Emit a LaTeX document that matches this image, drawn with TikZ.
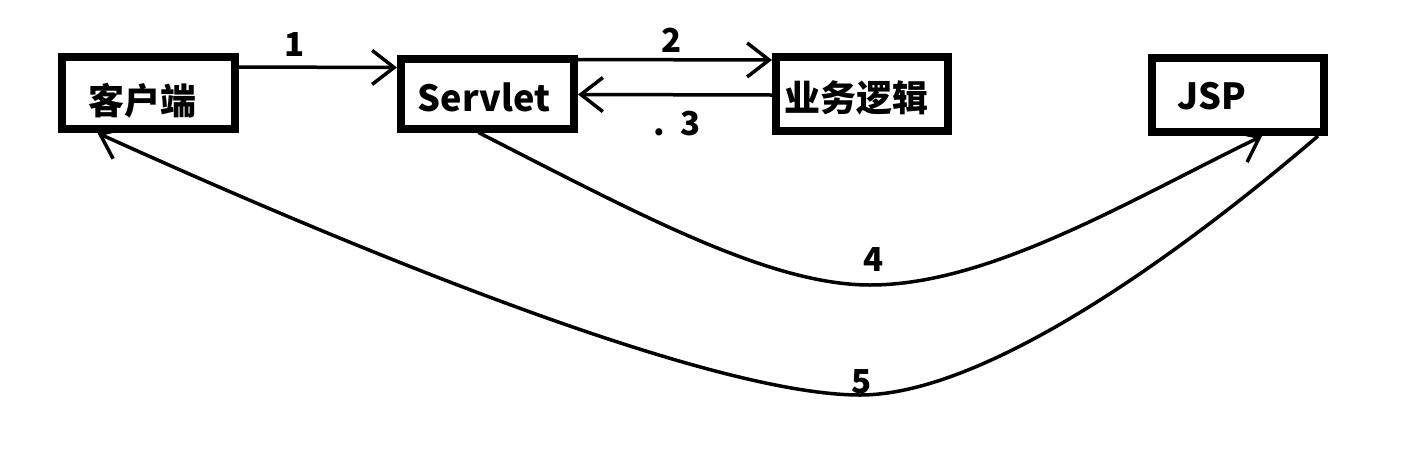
\documentclass[tikz,border=0pt]{standalone}
\usepackage{fontspec}
\setmainfont{Noto Sans CJK SC}
\usetikzlibrary{arrows.meta}
\begin{document}
\begin{tikzpicture}[x=1pt,y=-1pt,
  boxnode/.style={draw=black,line width=8pt,rectangle,inner sep=0pt},
  txt/.style={font=\fontsize{36}{40}\selectfont\bfseries,inner sep=0pt},
  num/.style={font=\fontsize{33}{38}\selectfont\bfseries,inner sep=0pt},
  conn/.style={line width=3.5pt,-{Straight Barb[length=22pt,width=34pt,line width=3.5pt]}}]
\useasboundingbox[fill=white] (0,0) rectangle (1428,456);
% boxes
\node[boxnode,minimum width=173pt,minimum height=72pt] (client) at (148.5,93) {};
\node[boxnode,minimum width=173pt,minimum height=70pt] (servlet) at (487.5,93.5) {};
\node[boxnode,minimum width=172pt,minimum height=74pt] (logic) at (862,94) {};
\node[boxnode,minimum width=172pt,minimum height=74pt] (jsp) at (1238,95) {};
% texts
\node[txt] (tclient) at (142,101) {客户端};
\node[txt] (tservlet) at (484,97) {Servlet};
\node[txt] (tlogic) at (856,98) {业务逻辑};
\node[txt] (tjsp) at (1212,96) {JSP};
% connectors
\draw[conn] ([yshift=26pt]client.east) -- ([yshift=26pt]servlet.west);
\draw[conn] ([yshift=34pt]servlet.east) -- ([yshift=34pt]logic.west);
\draw[conn] ([yshift=-1pt]logic.west) -- ([yshift=-1pt]servlet.west -| servlet.east);
\draw[conn] ([xshift=-9pt]servlet.south) .. controls (640,215) and (770,285) .. (870,285)
  .. controls (990,285) and (1130,200) .. ([xshift=24pt]jsp.south);
\draw[conn] ([xshift=80pt]jsp.south) .. controls (1220,220) and (1000,395) .. (860,395)
  .. controls (720,395) and (400,270) .. ([xshift=-51pt]client.south);
% labels
\node[num] (l1) at (295,45) {1};
\node[num] (l2) at (672,40) {2};
\node[num] (l3) at (677,124) {.\hspace{0.45em}3};
\node[num] (l4) at (874,260) {4};
\node[num] (l5) at (862,382) {5};
\end{tikzpicture}
\end{document}
